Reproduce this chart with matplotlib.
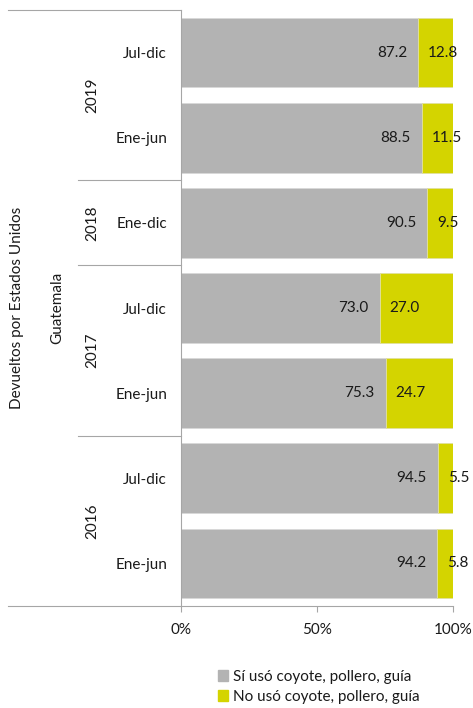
import matplotlib.pyplot as plt
import matplotlib.transforms as mtransforms
from matplotlib.patches import Patch

plt.rcParams['font.family'] = ['Lato', 'DejaVu Sans']
plt.rcParams['font.size'] = 11

# data, top to bottom
years = ['2019', '2019', '2018', '2017', '2017', '2016', '2016']
periods = ['Jul-dic', 'Ene-jun', 'Ene-dic', 'Jul-dic', 'Ene-jun', 'Jul-dic', 'Ene-jun']
si_uso = [87.2, 88.5, 90.5, 73.0, 75.3, 94.5, 94.2]
no_uso = [12.8, 11.5, 9.5, 27.0, 24.7, 5.5, 5.8]
series_names = ['Sí usó coyote, pollero, guía', 'No usó coyote, pollero, guía']

gray = '#b3b3b3'
yellow = '#d4d400'
line_c = '#a6a6a6'
txt_c = '#1a1a1a'

fig = plt.figure(figsize=(4.73, 7.08), dpi=100)
ax = fig.add_axes([181/473, 1 - 606/708, 272/473, 596/708])

pos = list(range(len(periods)))
ax.barh(pos, si_uso, height=0.82, color=gray, edgecolor='#d9d9d9', linewidth=0.6)
ax.barh(pos, no_uso, left=si_uso, height=0.82, color=yellow, edgecolor='#e0e0a0', linewidth=0.6)

for i in pos:
    ax.annotate(f'{si_uso[i]:.1f}', (si_uso[i], i), xytext=(-8, 0), textcoords='offset points',
                ha='right', va='center', color=txt_c)
    ax.annotate(f'{no_uso[i]:.1f}', (si_uso[i], i), xytext=(7, 0), textcoords='offset points',
                ha='left', va='center', color=txt_c)

ax.set_xlim(0, 100)
ax.set_ylim(6.5, -0.5)
ax.set_xticks([0, 50, 100])
ax.set_xticklabels(['0%', '50%', '100%'], color=txt_c)
ax.tick_params(axis='x', length=4, color=line_c, pad=8)
ax.set_yticks(pos)
ax.set_yticklabels(periods, color=txt_c)
ax.tick_params(axis='y', length=0, pad=10)
for s in ['top', 'right']:
    ax.spines[s].set_visible(False)
for s in ['left', 'bottom']:
    ax.spines[s].set_color(line_c)
    ax.spines[s].set_linewidth(0.8)

# multilevel category axis
tr = mtransforms.blended_transform_factory(ax.transAxes, ax.transData)
for y, x0 in [(-0.5, -0.636), (6.5, -0.636), (1.5, -0.379), (2.5, -0.379), (4.5, -0.379)]:
    ax.plot([x0, 0], [y, y], color=line_c, lw=0.8, transform=tr, clip_on=False)

groups = {}
for i, yr in enumerate(years):
    groups.setdefault(yr, []).append(i)
for yr, idx in groups.items():
    ax.text(-0.327, (idx[0] + idx[-1]) / 2, yr, rotation=90, ha='center', va='center',
            transform=tr, color=txt_c)
ax.text(-0.456, 3, 'Guatemala', rotation=90, ha='center', va='center', transform=tr, color=txt_c)
ax.text(-0.603, 3, 'Devueltos por Estados Unidos', rotation=90, ha='center', va='center',
        transform=tr, color=txt_c)

handles = [Patch(color=gray), Patch(color=yellow)]
fig.legend(handles, series_names, loc='upper left', bbox_to_anchor=(204/473, 1 - 656/708),
           frameon=False, handlelength=0.7, handleheight=0.7, handletextpad=0.3,
           labelspacing=0.42, labelcolor=txt_c)

fig.savefig('out.png', dpi=100)
